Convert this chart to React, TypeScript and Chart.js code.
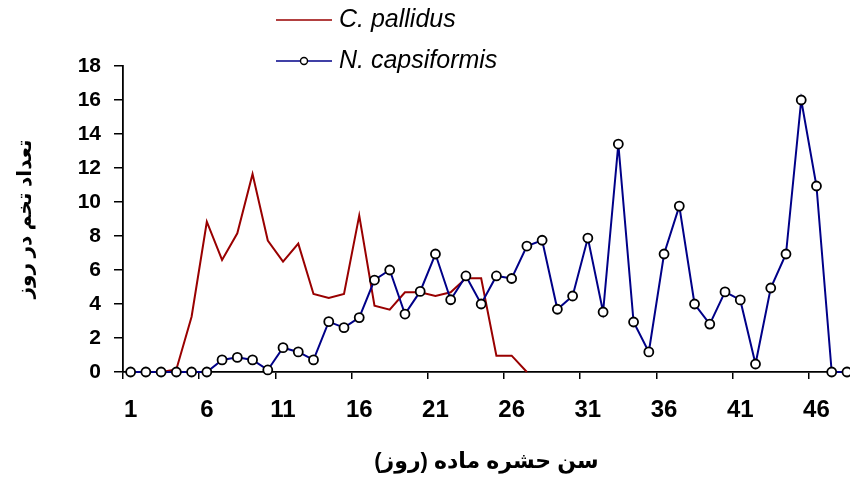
import React, { useEffect, useRef } from "react";
import { Chart, registerables } from "chart.js";

Chart.register(...registerables);

const days = [1, 2, 3, 4, 5, 6, 7, 8, 9, 10, 11, 12, 13, 14, 15, 16, 17, 18, 19, 20, 21, 22, 23, 24, 25, 26, 27, 28, 29, 30, 31, 32, 33, 34, 35, 36, 37, 38, 39, 40, 41, 42, 43, 44, 45, 46, 47, 48];

const cPallidus = [0, 0, 0, 0.15, 3.25, 8.84, 6.59, 8.16, 11.65, 7.73, 6.49, 7.55, 4.59, 4.35, 4.59, 9.2, 3.9, 3.67, 4.69, 4.69, 4.47, 4.69, 5.51, 5.51, 0.96, 0.96, 0];

const nCapsiformis = [0, 0, 0, 0, 0, 0, 0.71, 0.86, 0.71, 0.12, 1.43, 1.18, 0.71, 2.96, 2.61, 3.2, 5.41, 6.0, 3.41, 4.74, 6.94, 4.25, 5.65, 4.0, 5.65, 5.5, 7.41, 7.75, 3.69, 4.47, 7.88, 3.53, 13.41, 2.94, 1.18, 6.94, 9.76, 4.0, 2.82, 4.71, 4.24, 0.47, 4.94, 6.94, 16.0, 10.94, 0, 0];

const xTickLabels = [1, 6, 11, 16, 21, 26, 31, 36, 41, 46];
const yTickValues = [0, 2, 4, 6, 8, 10, 12, 14, 16, 18];

const seriesNames = ["C. pallidus", "N. capsiformis"];
const xTitle = "سن حشره ماده (روز)";
const yTitle = "تعداد تخم در روز";

const RED = "#990000";
const BLUE = "#000088";
const FONT = "Arial, 'Liberation Sans', 'DejaVu Sans', sans-serif";

const stackedLegend = {
  id: "stackedLegend",
  afterDraw(chart: any) {
    const ctx = chart.ctx;
    const rows = [
      { y: 20, ds: chart.data.datasets[0] },
      { y: 61, ds: chart.data.datasets[1] },
    ];
    ctx.save();
    rows.forEach((r) => {
      ctx.strokeStyle = r.ds.borderColor;
      ctx.lineWidth = 1.5;
      ctx.beginPath();
      ctx.moveTo(276, r.y);
      ctx.lineTo(332, r.y);
      ctx.stroke();
      if (r.ds.pointRadius > 0) {
        ctx.beginPath();
        ctx.arc(304, r.y, 3.5, 0, Math.PI * 2);
        ctx.fillStyle = "#ffffff";
        ctx.fill();
        ctx.strokeStyle = "#000000";
        ctx.lineWidth = 1.4;
        ctx.stroke();
      }
      ctx.fillStyle = "#000000";
      ctx.font = `italic 25px ${FONT}`;
      ctx.textAlign = "left";
      ctx.textBaseline = "middle";
      ctx.fillText(r.ds.label, 339, r.y);
    });
    ctx.restore();
  },
};

export default function App() {
  const canvasRef = useRef<HTMLCanvasElement | null>(null);

  useEffect(() => {
    if (!canvasRef.current) return;
    const tickMarks = xTickLabels.map((d) => d - 0.5);
    const chart = new Chart(canvasRef.current, {
      type: "line",
      data: {
        datasets: [
          {
            label: seriesNames[0],
            data: cPallidus.map((v, i) => ({ x: days[i], y: v })),
            borderColor: RED,
            backgroundColor: RED,
            borderWidth: 2,
            pointRadius: 0,
            pointHoverRadius: 0,
            tension: 0,
            clip: false as any,
            order: 1,
          },
          {
            label: seriesNames[1],
            data: nCapsiformis.map((v, i) => ({ x: days[i], y: v })),
            borderColor: BLUE,
            backgroundColor: "#ffffff",
            borderWidth: 2,
            pointRadius: 4.5,
            pointBorderColor: "#000000",
            pointBackgroundColor: "#ffffff",
            pointBorderWidth: 1.8,
            tension: 0,
            clip: false as any,
            order: 0,
          },
        ],
      },
      options: {
        animation: false,
        responsive: false,
        events: [],
        layout: { autoPadding: false, padding: { top: 66, left: 0, right: 0, bottom: 0 } },
        plugins: {
          legend: { display: false },
          tooltip: { enabled: false },
        },
        scales: {
          x: {
            type: "linear",
            min: 0.5,
            max: 48.2,
            afterBuildTicks: (axis: any) => {
              const t: any[] = [];
              xTickLabels.forEach((d, i) => {
                t.push({ value: tickMarks[i] });
                t.push({ value: d });
              });
              axis.ticks = t;
            },
            afterFit: (scale: any) => {
              scale.height = 105;
              scale.paddingLeft = 0;
              scale.paddingRight = 0;
            },
            ticks: {
              autoSkip: false,
              maxRotation: 0,
              minRotation: 0,
              padding: 17,
              color: "#000000",
              font: { family: FONT, size: 24, weight: "bold", lineHeight: 1.2 },
              callback: (value: any) => (xTickLabels.includes(value) ? String(value) : ""),
            },
            grid: {
              drawOnChartArea: false,
              drawTicks: true,
              tickLength: 7,
              lineWidth: 1.5,
              color: (c: any) => (c.tick && xTickLabels.includes(c.tick.value) ? "rgba(0,0,0,0)" : "#000000"),
            },
            border: { display: true, color: "#000000", width: 1.8 },
            title: {
              display: true,
              text: xTitle,
              color: "#000000",
              font: { family: FONT, size: 22, weight: "bold", lineHeight: 1.2 },
              padding: { top: 0, bottom: 2 },
            },
          },
          y: {
            type: "linear",
            min: 0,
            max: 18,
            afterBuildTicks: (axis: any) => {
              axis.ticks = yTickValues.map((v) => ({ value: v }));
            },
            afterFit: (scale: any) => {
              scale.width = 123;
            },
            ticks: {
              padding: 13,
              color: "#000000",
              font: { family: FONT, size: 21, weight: "bold" },
            },
            grid: {
              drawOnChartArea: false,
              drawTicks: true,
              tickLength: 9,
              lineWidth: 1.5,
              color: "#000000",
            },
            border: { display: true, color: "#000000", width: 1.8 },
            title: {
              display: true,
              text: yTitle,
              color: "#000000",
              font: { family: FONT, size: 20, weight: "bold", lineHeight: 1.2 },
              padding: { top: 13, bottom: 0 },
            },
          },
        },
      },
      plugins: [stackedLegend],
    });
    return () => chart.destroy();
  }, []);

  return (
    <div style={{ position: "absolute", left: 0, top: 0, width: 850, height: 477, background: "#ffffff", overflow: "hidden" }}>
      <canvas ref={canvasRef} width={850} height={477} style={{ width: 850, height: 477, display: "block" }} />
    </div>
  );
}
